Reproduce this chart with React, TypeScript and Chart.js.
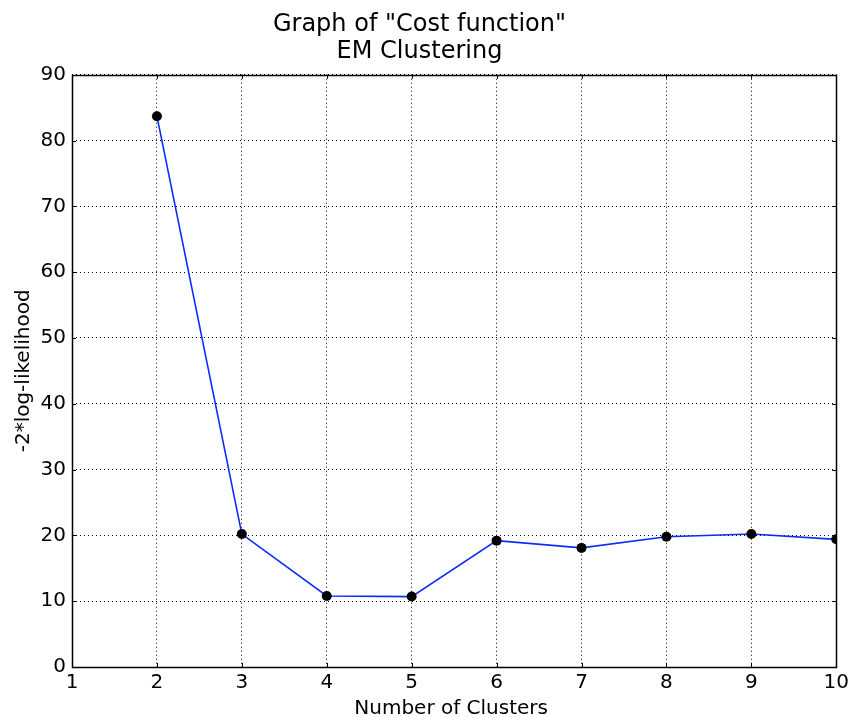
import React, { useEffect, useRef } from "react";
import { Chart, registerables } from "chart.js";

Chart.register(...registerables);

const clusters = [2, 3, 4, 5, 6, 7, 8, 9, 10];
const costValues = [83.7, 20.2, 10.8, 10.7, 19.2, 18.1, 19.8, 20.2, 19.4];
const titleLines = ['Graph of "Cost function"', "EM Clustering"];
const xLabel = "Number of Clusters";
const yLabel = "-2*log-likelihood";

const FONT = "'DejaVu Sans', sans-serif";

const framePlugin = {
  id: "frame",
  afterDraw(chart: any) {
    const { ctx, chartArea } = chart;
    const { left, right, top, bottom } = chartArea;
    ctx.save();
    ctx.strokeStyle = "#000";
    ctx.lineWidth = 1;
    ctx.setLineDash([]);
    const xs = chart.scales.x;
    const ys = chart.scales.y;
    const L = 4;
    ctx.beginPath();
    xs.ticks.forEach((t: any) => {
      const px = Math.round(xs.getPixelForValue(t.value)) + 0.5;
      ctx.moveTo(px, bottom);
      ctx.lineTo(px, bottom - L);
      ctx.moveTo(px, top);
      ctx.lineTo(px, top + L);
    });
    ys.ticks.forEach((t: any) => {
      const py = Math.round(ys.getPixelForValue(t.value)) + 0.5;
      ctx.moveTo(left, py);
      ctx.lineTo(left + L, py);
      ctx.moveTo(right, py);
      ctx.lineTo(right - L, py);
    });
    ctx.stroke();
    ctx.lineWidth = 1.5;
    ctx.strokeRect(Math.round(left) + 0.5, Math.round(top) + 0.5, Math.round(right - left), Math.round(bottom - top));

    // axis titles
    ctx.fillStyle = "#000";
    ctx.font = `20px ${FONT}`;
    ctx.textAlign = "center";
    ctx.textBaseline = "alphabetic";
    ctx.fillText(xLabel, (left + right) / 2 - 3, 714);
    ctx.translate(29, (top + bottom) / 2);
    ctx.rotate(-Math.PI / 2);
    ctx.fillText(yLabel, 0, 0);
    ctx.restore();
  },
};

export default function App() {
  const ref = useRef<HTMLCanvasElement | null>(null);
  useEffect(() => {
    document.body.style.margin = "0";
    document.body.style.overflow = "hidden";
    if (!ref.current) return;
    const chart = new Chart(ref.current, {
      type: "line",
      data: {
        datasets: [
          {
            data: clusters.map((c, i) => ({ x: c, y: costValues[i] })),
            borderColor: "#0a2cff",
            borderWidth: 1.6,
            pointBackgroundColor: "#000",
            pointBorderColor: "#000",
            pointRadius: 5,
            pointBorderWidth: 0,
            tension: 0,
          },
        ],
      },
      options: {
        animation: false,
        responsive: false,
        devicePixelRatio: 1,
        layout: { padding: { left: 0, right: 14, top: 0, bottom: 0 } },
        plugins: {
          legend: { display: false },
          tooltip: { enabled: false },
          title: {
            display: true,
            text: titleLines,
            color: "#000",
            font: { family: FONT, size: 24, weight: "normal", lineHeight: 1.14 },
            padding: { top: 11, bottom: 9 },
          },
        },
        scales: {
          x: {
            type: "linear",
            min: 1,
            max: 10,
            afterFit: (s: any) => {
              s.height = 50;
            },
            ticks: {
              stepSize: 1,
              color: "#000",
              font: { family: FONT, size: 20 },
              padding: 4,
            },
            grid: {
              color: "#000",
              lineWidth: 1,
              drawTicks: false,
            },
            border: { display: false, dash: [1, 3] },
          },
          y: {
            type: "linear",
            min: 0,
            max: 90,
            afterFit: (s: any) => {
              s.width = 72;
            },
            ticks: {
              stepSize: 10,
              color: "#000",
              font: { family: FONT, size: 20 },
              padding: 6,
            },
            grid: {
              color: "#000",
              lineWidth: 1,
              drawTicks: false,
            },
            border: { display: false, dash: [1, 3] },
          },
        },
      },
      plugins: [framePlugin],
    });
    return () => chart.destroy();
  }, []);
  return <canvas ref={ref} width={853} height={717} style={{ display: "block" }} />;
}
